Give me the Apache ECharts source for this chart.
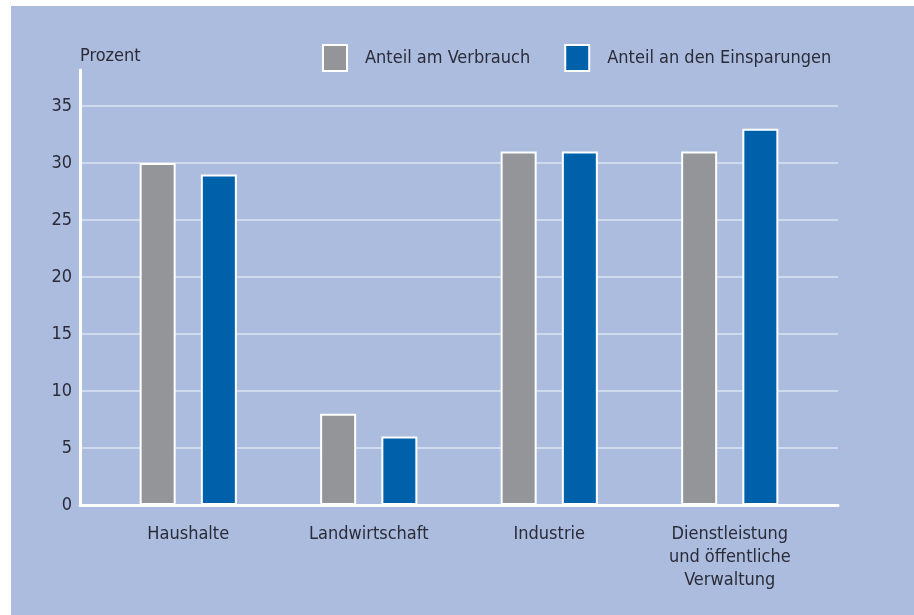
<!DOCTYPE html>
<html><head><meta charset="utf-8">
<script src="https://cdn.jsdelivr.net/npm/echarts@6/dist/echarts.min.js"></script>
<style>
html,body{margin:0;padding:0;background:#fff;width:914px;height:615px;overflow:hidden}
#c{position:absolute;left:11px;top:6px;width:903px;height:609px}
</style></head>
<body><div id="c"></div>
<script>
const categories = ['Haushalte', 'Landwirtschaft', 'Industrie', 'Dienstleistung\nund öffentliche\nVerwaltung'];
const seriesNames = ['Anteil am Verbrauch', 'Anteil an den Einsparungen'];
const verbrauch = [30, 8, 31, 31];
const einsparungen = [29, 6, 31, 33];
const yTicks = [0, 5, 10, 15, 20, 25, 30, 35];
const yName = 'Prozent';

const FONT = '"Liberation Sans Narrow", "DejaVu Sans Condensed", "Roboto", sans-serif';
const TXT = '#2b2b38';
const chart = echarts.init(document.getElementById('c'));
const barBase = {type: 'bar', xAxisIndex: 2, yAxisIndex: 2, barWidth: 36, barGap: '70%'};
chart.setOption({
  backgroundColor: '#abbcde',
  animation: false,
  textStyle: {fontFamily: FONT},
  legend: {
    left: 306, top: 33, itemWidth: 24, itemHeight: 26, itemGap: 34, icon: 'rect',
    textStyle: {fontFamily: FONT, fontSize: 18, color: TXT, padding: [0, 0, 0, 13]},
    data: seriesNames
  },
  grid: [
    {left: 69, right: 76, top: 100, bottom: 110},
    {left: 69, right: 76, top: 64, bottom: 110},
    {left: 87, right: 94, top: 100, bottom: 110}
  ],
  xAxis: [
    {gridIndex: 0, type: 'category', data: categories, axisLine: {lineStyle: {color: '#fff', width: 3}},
     axisTick: {show: false}, axisLabel: {show: false}},
    {gridIndex: 1, type: 'value', show: false},
    {gridIndex: 2, type: 'category', data: categories, axisLine: {show: false}, axisTick: {show: false},
     axisLabel: {fontFamily: FONT, fontSize: 18, color: TXT, margin: 18, lineHeight: 23}}
  ],
  yAxis: [
    {gridIndex: 0, type: 'value', min: yTicks[0], max: yTicks[yTicks.length - 1], interval: 5,
     axisLine: {show: false}, axisTick: {show: false},
     axisLabel: {fontFamily: FONT, fontSize: 18, color: TXT, margin: 8},
     splitLine: {lineStyle: {color: 'rgba(255,255,255,0.6)', width: 1.5}}},
    {gridIndex: 1, type: 'value', min: 0, max: 38, axisLine: {show: true, lineStyle: {color: '#fff', width: 3}},
     axisTick: {show: false}, axisLabel: {show: false}, splitLine: {show: false},
     name: yName, nameLocation: 'end', nameGap: 5,
     nameTextStyle: {fontFamily: FONT, fontSize: 18, color: TXT, align: 'left'}},
    {gridIndex: 2, type: 'value', min: yTicks[0], max: yTicks[yTicks.length - 1], show: false}
  ],
  series: [
    Object.assign({}, barBase, {name: seriesNames[0], data: verbrauch,
      itemStyle: {color: '#939598', borderColor: '#fff', borderWidth: 2}}),
    Object.assign({}, barBase, {name: seriesNames[1], data: einsparungen,
      itemStyle: {color: '#0061ab', borderColor: '#fff', borderWidth: 2}})
  ]
});
</script></body></html>
